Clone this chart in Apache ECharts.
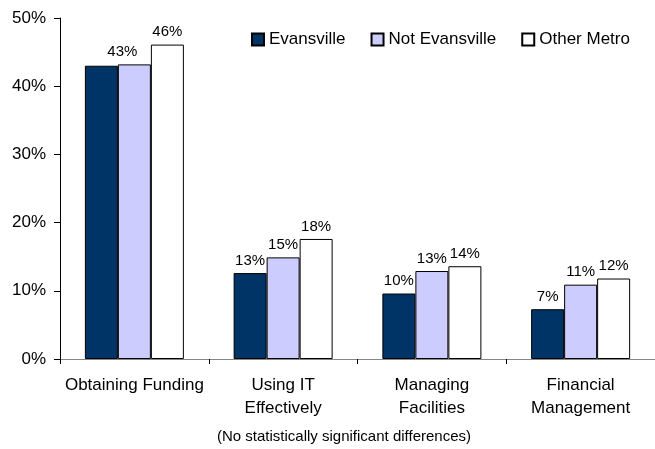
<!DOCTYPE html>
<html>
<head>
<meta charset="utf-8">
<script src="https://cdn.jsdelivr.net/npm/echarts@6/dist/echarts.min.js"></script>
<style>
  html, body { margin: 0; padding: 0; background: #fff; }
  #chart { width: 655px; height: 449px; }
</style>
</head>
<body>
<div id="chart"></div>
<script>
// values in percent
const categories = ['Obtaining Funding', 'Using IT\nEffectively', 'Managing\nFacilities', 'Financial\nManagement'];
const evansville = [43.0, 12.6, 9.6, 7.3];
const notEvansville = [43.2, 14.9, 12.9, 10.9];
const otherMetro = [46.1, 17.6, 13.6, 11.8];
const yTicks = [0, 10, 20, 30, 40, 50];
const note = '(No statistically significant differences)';

const font = 'Liberation Sans, Arial, sans-serif';

const chart = echarts.init(document.getElementById('chart'));

function labelCfg() {
  return {
    show: true,
    position: 'top',
    distance: 5,
    color: '#000',
    fontFamily: font,
    fontSize: 15,
    formatter: p => Math.round(p.value) + '%'
  };
}

function bar(name, values, color, tweak) {
  return {
    name: name,
    type: 'bar',
    barWidth: 33,
    barGap: '0%',
    data: values.map((v, i) => tweak ? tweak(v, i) : v),
    itemStyle: { color: color, borderColor: '#000', borderWidth: 1 },
    label: labelCfg()
  };
}

const options = {
  animation: false,
  backgroundColor: '#fff',
  textStyle: { fontFamily: font, color: '#000' },
  grid: { left: 60, right: 0, top: 18, bottom: 90, containLabel: false },
  legend: {
    left: 251,
    top: 31,
    padding: 0,
    itemWidth: 12,
    itemHeight: 12,
    itemGap: 25,
    icon: 'rect',
    textStyle: { fontFamily: font, fontSize: 17, color: '#000' },
    data: ['Evansville', 'Not Evansville', 'Other Metro']
  },
  xAxis: {
    type: 'category',
    data: categories,
    axisLine: { lineStyle: { color: '#868686', width: 1 } },
    axisTick: { show: true, length: 5, inside: false, lineStyle: { color: '#000' } },
    axisLabel: { color: '#000', fontFamily: font, fontSize: 17, lineHeight: 23, margin: 15, interval: 0 },
    splitLine: { show: false }
  },
  yAxis: {
    type: 'value',
    min: yTicks[0],
    max: yTicks[yTicks.length - 1],
    interval: 10,
    axisLine: { show: true, lineStyle: { color: '#000', width: 1 } },
    axisTick: { show: true, length: 6, lineStyle: { color: '#000' } },
    axisLabel: { color: '#000', fontFamily: font, fontSize: 17, margin: 14, formatter: '{value}%' },
    splitLine: { show: false }
  },
  graphic: [{
    type: 'text',
    left: 217,
    top: 429,
    style: { text: note, font: '15px ' + font, fill: '#000' }
  }],
  series: [
    bar('Evansville', evansville, '#003366', (v, i) => i === 0 ? { value: v, label: { show: false } } : v),
    bar('Not Evansville', notEvansville, '#CCCCFF', (v, i) => i === 0 ? { value: v, label: { offset: [-12, 0] } } : v),
    bar('Other Metro', otherMetro, '#FFFFFF')
  ]
};

chart.setOption(options);
</script>
</body>
</html>
